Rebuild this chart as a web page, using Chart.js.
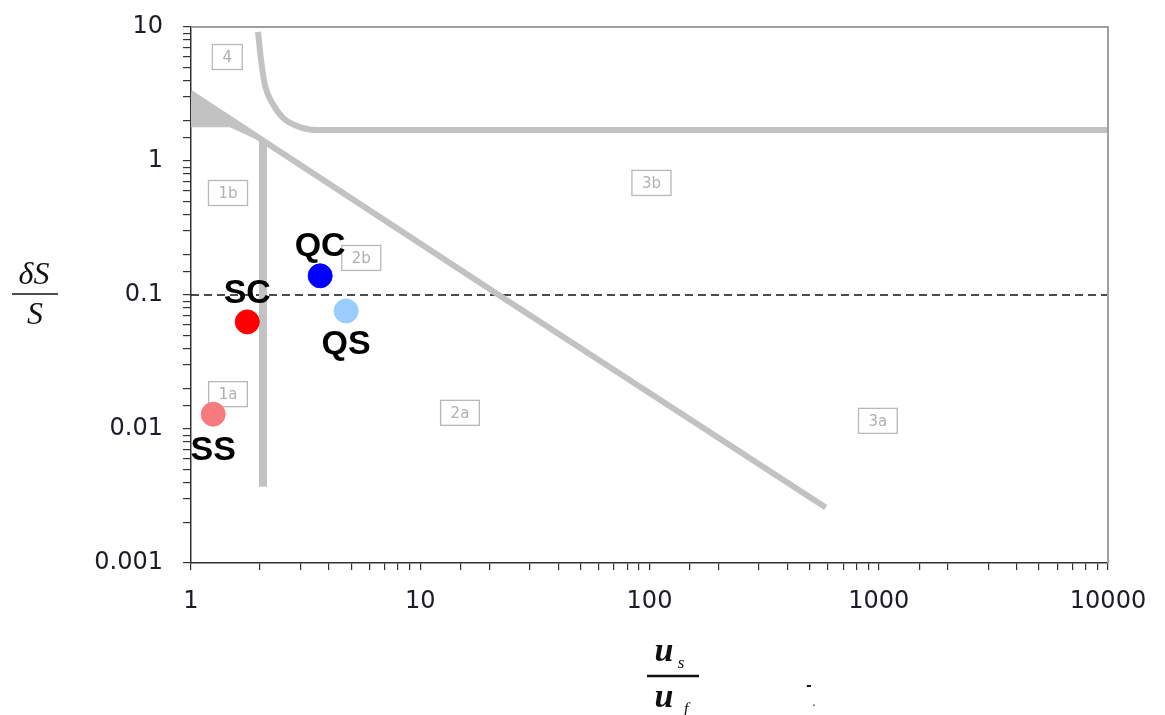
<!DOCTYPE html>
<html>
<head>
<meta charset="utf-8">
<script src="https://cdn.jsdelivr.net/npm/chart.js@4"></script>
<style>
body{margin:0;background:#fff;}
#wrap{width:1165px;height:715px;position:relative;}
</style>
</head>
<body>
<div id="wrap"><canvas id="chart"></canvas></div>
<script>
// ===========================
// DATA (us/uf  vs  dS/S)
// ===========================

// regime boundaries
const curve4 = [
    {x:1.96,y:9.2},{x:2.02,y:5.7},{x:2.10,y:3.7},{x:2.26,y:2.71},
    {x:2.52,y:2.10},{x:2.99,y:1.79},{x:3.66,y:1.70},{x:10000,y:1.70}
];
const wedge = [
    {x:1,y:3.2},{x:2.21,y:1.31},{x:1.48,y:1.80},{x:1,y:1.80},{x:1,y:3.2}
];
const diagonal = [
    {x:1,y:3.2},{x:22,y:0.1},{x:587,y:0.0026}
];
const vertical = [{x:2.06,y:1.44},{x:2.06,y:0.0037}];
const threshold = [{x:1,y:0.1},{x:10000,y:0.1}];

// measured cases
const caseNames  = ["SS","SC","QC","QS"];
const caseX      = [1.25, 1.76, 3.66, 4.75];
const caseY      = [0.0129, 0.063, 0.139, 0.076];
const caseColors = ["#f67b7e","#ff0000","#0000ff","#99ccff"];

// regime tags
const regionNames = ["4","1b","3b","2b","1a","2a","3a"];
const regionX     = [1.44, 1.45, 102, 5.53, 1.45, 14.9, 991];
const regionY     = [5.97, 0.577, 0.686, 0.189, 0.0182, 0.0132, 0.0115];

// tick labels
const xTickLabels = ["1","10","100","1000","10000"];
const yTickLabels = ["0.001","0.01","0.1","1","10"];

// ===========================
// HELPERS
// ===========================
function decadeLabel(v, labels, minExp){
    const e = Math.log10(v);
    if(Math.abs(e - Math.round(e)) > 1e-6) return "";
    return labels[Math.round(e) - minExp] || "";
}

const gray = "#c2c2c2";

// ===========================
// DECORATION PLUGIN
// ===========================
const decor = {
    id:"decor",
    beforeDatasetsDraw(chart){
        const ctx = chart.ctx;
        const xs = chart.scales.x, ys = chart.scales.y;
        ctx.save();
        ctx.font = "15px 'DejaVu Sans'";
        ctx.textAlign = "center";
        ctx.textBaseline = "middle";
        regionNames.forEach((t,i) => {
            const px = xs.getPixelForValue(regionX[i]);
            const py = ys.getPixelForValue(regionY[i]);
            const w = Math.max(30, ctx.measureText(t).width + 20);
            const h = 25;
            ctx.strokeStyle = "#b8b8b8";
            ctx.lineWidth = 1.3;
            ctx.strokeRect(px - w/2, py - h/2, w, h);
            ctx.fillStyle = "#b0b0b0";
            ctx.fillText(t, px, py + 1);
        });
        ctx.restore();
    },
    afterDatasetsDraw(chart){
        const ctx = chart.ctx;
        const a = chart.chartArea;
        const xs = chart.scales.x, ys = chart.scales.y;
        ctx.save();

        // top / right frame
        ctx.strokeStyle = "#a0a0a0";
        ctx.lineWidth = 2;
        ctx.beginPath();
        ctx.moveTo(a.left, a.top);
        ctx.lineTo(a.right, a.top);
        ctx.lineTo(a.right, a.bottom);
        ctx.stroke();

        // case labels
        const offsets = [36, -28, -29, 34];
        ctx.font = "bold 34px 'Liberation Sans'";
        ctx.fillStyle = "#000";
        ctx.textAlign = "center";
        ctx.textBaseline = "middle";
        caseNames.forEach((t,i) => {
            const px = xs.getPixelForValue(caseX[i]);
            const py = ys.getPixelForValue(caseY[i]);
            ctx.fillText(t, px, py + offsets[i]);
        });

        // y title  dS / S
        ctx.font = "italic 32px 'Liberation Serif'";
        ctx.textBaseline = "alphabetic";
        ctx.fillStyle = "#111";
        ctx.fillText("\u03B4S", 34, 284);
        ctx.fillText("S", 35, 324);
        ctx.lineWidth = 1.6;
        ctx.strokeStyle = "#111";
        ctx.beginPath();
        ctx.moveTo(12, 294);
        ctx.lineTo(58, 294);
        ctx.stroke();

        // x title  us / uf
        ctx.font = "bold italic 34px 'Liberation Serif'";
        ctx.fillText("u", 664, 661);
        ctx.fillText("u", 664, 707);
        ctx.font = "italic 17px 'Liberation Serif'";
        ctx.fillText("s", 681, 668);
        ctx.fillText("f", 686, 714);
        ctx.lineWidth = 2.5;
        ctx.beginPath();
        ctx.moveTo(647, 676);
        ctx.lineTo(699, 676);
        ctx.stroke();

        // stray marks
        ctx.font = "bold 16px 'Liberation Sans'";
        ctx.fillText("-", 809, 690);
        ctx.font = "12px 'Liberation Sans'";
        ctx.fillText(".", 814, 706);

        ctx.restore();
    }
};

// ===========================
// CHART
// ===========================
new Chart(document.getElementById("chart"),{

    type:"scatter",

    data:{
        datasets:[
            {
                data: caseX.map((x,i) => ({x:x, y:caseY[i]})),
                backgroundColor: caseColors,
                borderColor: caseColors,
                pointRadius: 12,
                order: 0
            },
            {
                data: curve4, showLine:true, borderColor:gray, borderWidth:6,
                pointRadius:0, cubicInterpolationMode:"monotone", order:2
            },
            {
                data: wedge, showLine:true, borderColor:gray, borderWidth:1,
                backgroundColor:gray, fill:"shape", pointRadius:0, order:2
            },
            {
                data: diagonal, showLine:true, borderColor:gray, borderWidth:6,
                pointRadius:0, order:2
            },
            {
                data: vertical, showLine:true, borderColor:gray, borderWidth:8,
                pointRadius:0, order:2
            },
            {
                data: threshold, showLine:true, borderColor:"#111", borderWidth:1.5,
                borderDash:[8,5], pointRadius:0, order:3
            }
        ]
    },

    options:{
        responsive:true,
        maintainAspectRatio:false,
        animation:false,
        layout:{ padding:{top:27, right:57, bottom:0, left:0} },
        plugins:{
            legend:{ display:false },
            tooltip:{ enabled:false }
        },
        scales:{
            x:{
                type:"logarithmic", min:1, max:10000,
                border:{ color:"#333", width:1.5 },
                grid:{ drawOnChartArea:false, drawTicks:true, tickLength:7, color:"#333", lineWidth:1.2 },
                ticks:{
                    autoSkip:false, maxRotation:0, padding:17, color:"#1c1c28",
                    font:{ family:"DejaVu Sans", size:24 },
                    callback:(v) => decadeLabel(v, xTickLabels, 0)
                },
                afterFit:(s) => { s.height = 152; s.paddingLeft = 0; s.paddingRight = 0; }
            },
            y:{
                type:"logarithmic", min:0.001, max:10,
                border:{ color:"#333", width:1.5 },
                grid:{ drawOnChartArea:false, drawTicks:true, tickLength:8, color:"#333", lineWidth:1.2 },
                ticks:{
                    autoSkip:false, padding:20, color:"#1c1c28",
                    font:{ family:"DejaVu Sans", size:24 },
                    callback:(v) => decadeLabel(v, yTickLabels, -3)
                },
                afterFit:(s) => { s.width = 191; s.paddingTop = 0; s.paddingBottom = 0; }
            }
        }
    },

    plugins:[decor]

});
</script>
</body>
</html>
